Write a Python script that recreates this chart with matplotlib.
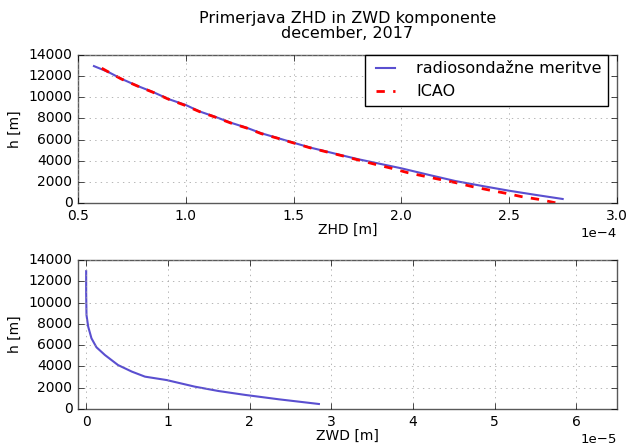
import numpy as np
import matplotlib
matplotlib.use("Agg")
import matplotlib.pyplot as plt

plt.style.use("classic")
plt.rcParams["font.family"] = ["DejaVu Sans"]

# --- data (ZHD in 1e-4 m, ZWD in 1e-5 m, heights in m) ---
radio_zhd = [0.574, 0.64, 0.70, 0.775, 0.85, 0.92, 1.0, 1.064, 1.134, 1.208, 1.282,
             1.35, 1.427, 1.50, 1.574, 1.65, 1.73, 1.80, 1.90, 2.00, 2.125, 2.25,
             2.375, 2.50, 2.625, 2.748]
radio_h = [12950, 12400, 11760, 11080, 10480, 9830, 9270, 8660, 8170, 7600, 7120,
           6600, 6140, 5700, 5260, 4880, 4480, 4140, 3710, 3280, 2670, 2080,
           1610, 1160, 760, 380]

icao_zhd = [0.61, 0.639, 0.701, 0.775, 0.848, 0.921, 0.992, 1.064, 1.134, 1.208,
            1.282, 1.350, 1.427, 1.500, 1.574, 1.649, 1.729, 1.800, 1.878, 1.955,
            2.029, 2.102, 2.176, 2.253, 2.331, 2.406, 2.484, 2.558, 2.635, 2.705, 2.72]
icao_h = [12750, 12420, 11730, 11070, 10470, 9810, 9270, 8640, 8140, 7570,
          7095, 6560, 6120, 5680, 5235, 4855, 4450, 4070, 3660, 3280,
          2870, 2555, 2240, 1920, 1540, 1230, 920, 600, 350, 60, 0]

radio_zwd = [0.0, 0.0, 0.004, 0.025, 0.065, 0.126, 0.23, 0.39, 0.56, 0.72, 0.985,
             1.33, 1.62, 1.95, 2.36, 2.85]
zwd_h = [12950, 10870, 8830, 7730, 6640, 5800, 5070, 4130, 3510, 3040, 2720,
         2100, 1690, 1320, 910, 470]

title = "Primerjava ZHD in ZWD komponente\ndecember, 2017"
labels = ["radiosondažne meritve", "ICAO"]

blue = "#5a4fd0"

fig = plt.figure(figsize=(6.26, 4.45), dpi=100, facecolor="white")
ax1 = fig.add_axes([78/626, 1-203/445, (617-78)/626, (203-55)/445])
ax2 = fig.add_axes([78/626, 1-409/445, (617-78)/626, (409-260)/445])

ax1.plot(np.array(radio_zhd)*1e-4, radio_h, color=blue, lw=1.5, label=labels[0])
ax1.plot(np.array(icao_zhd)*1e-4, icao_h, color="red", ls="--", lw=2, label=labels[1])
ax1.set_xlim(0.5e-4, 3.0e-4)
ax1.set_ylim(0, 14000)
ax1.set_xticks(np.arange(0.5, 3.01, 0.5)*1e-4)
ax1.set_yticks(np.arange(0, 14001, 2000))
ax1.ticklabel_format(axis="x", style="sci", scilimits=(0, 0))
ax1.set_xlabel("ZHD [m]", fontsize=10, labelpad=0)
ax1.set_ylabel("h [m]", fontsize=10)
ax1.set_title(title, fontsize=11.5, linespacing=1.0, pad=12)
ax1.grid(True, color="0.6", linestyle=":")
leg = ax1.legend(loc="upper right", bbox_to_anchor=(1 - 9/539, 1.0), fontsize=11.5,
                 borderaxespad=0.0, handlelength=1.8, handletextpad=1.0,
                 borderpad=0.4)
leg.get_frame().set_linewidth(1.0)

ax2.plot(np.array(radio_zwd)*1e-5, zwd_h, color=blue, lw=1.5)
ax2.set_xlim(-0.1e-5, 6.5e-5)
ax2.set_ylim(0, 14000)
ax2.set_xticks(np.arange(0, 7)*1e-5)
ax2.set_yticks(np.arange(0, 14001, 2000))
ax2.ticklabel_format(axis="x", style="sci", scilimits=(0, 0))
ax2.set_xlabel("ZWD [m]", fontsize=10, labelpad=0)
ax2.set_ylabel("h [m]", fontsize=10)
ax2.grid(True, color="0.6", linestyle=":")

for ax in (ax1, ax2):
    ax.tick_params(labelsize=10)
    ax.xaxis.get_offset_text().set_fontsize(9.5)
    for s in ax.spines.values():
        s.set_color("0.35")

fig.savefig("out.png", dpi=100, facecolor="white")
